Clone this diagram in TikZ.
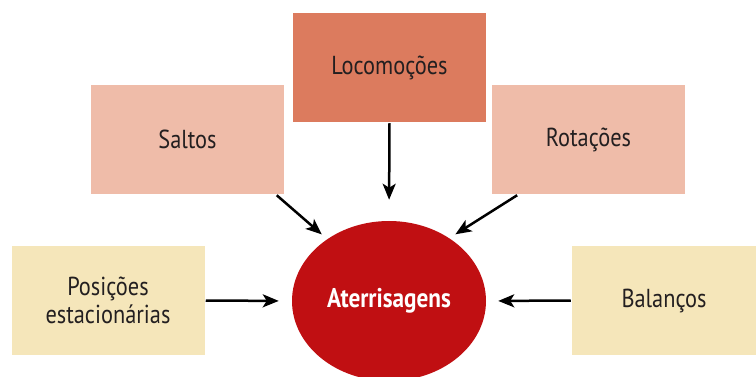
\documentclass[tikz,border=0pt]{standalone}
\usepackage{fontspec}
\setmainfont[FakeStretch=0.86]{PT Sans}
\usepackage{xcolor}
\definecolor{colorLoco}{HTML}{DC7B5E}
\definecolor{colorSalto}{HTML}{EFBCA9}
\definecolor{colorPosicao}{HTML}{F5E6BA}
\definecolor{colorAter}{HTML}{C00F12}
\definecolor{colorTexto}{HTML}{231F20}
\usepackage{tikz}
\usetikzlibrary{arrows.meta, positioning, shapes.geometric}
\tikzset{caixa/.style={rectangle, minimum width=193pt, minimum height=109pt, inner sep=0pt, align=center, text=colorTexto, font=\fontsize{26}{28}\selectfont}}

\begin{document}
\begin{tikzpicture}[x=1pt, y=-1pt, >={Stealth[length=16pt, width=13pt, inset=4pt]}, line width=2.5pt]
\useasboundingbox (0,0) rectangle (756,377);
\node[caixa, fill=colorLoco] (loco) at (389.5,67.5) {Locomoções};
\node[caixa, fill=colorSalto] (saltos) at (187.5,139.5) {Saltos};
\node[caixa, fill=colorSalto] (rotacoes) at (588.5,139.5) {Rotações};
\node[caixa, fill=colorPosicao] (posicoes) at (108,300.5) {Posições\\estacionárias};
\node[caixa, fill=colorPosicao, minimum width=184pt] (balancos) at (664,300.5) {Balanços};
\node[ellipse, fill=colorAter, minimum width=194pt, minimum height=160pt, inner sep=0pt, text=white, font=\fontsize{27}{30}\selectfont\bfseries] (ater) at (389,301) {Aterrisagens};
\draw [->, shorten >=20pt] (loco.south) -- (ater.north);
\draw [->, shorten >=6pt] (saltos.-32) -- (ater.135);
\draw [->, shorten >=6pt] (rotacoes.-142.6) -- (ater.46);
\draw [->, shorten >=12pt] (posicoes.east) -- (ater.west);
\draw [->, shorten >=11pt] (balancos.west) -- (ater.east);
\end{tikzpicture}
\end{document}
